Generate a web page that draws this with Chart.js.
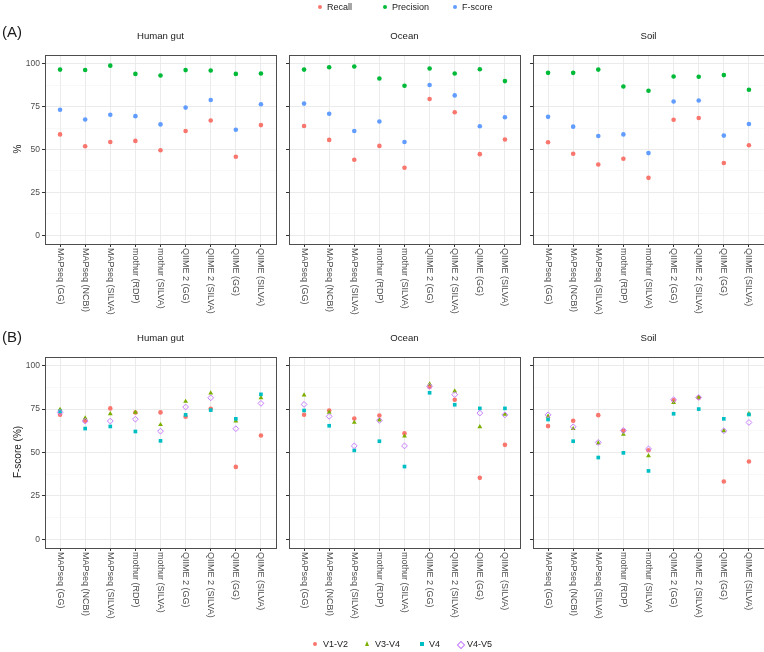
<!DOCTYPE html>
<html>
<head>
<meta charset="utf-8">
<script src="https://cdn.jsdelivr.net/npm/chart.js@4.4.1/dist/chart.umd.min.js"></script>
<style>
  body { margin: 0; background: #fff; font-family: "Liberation Sans", Arial, sans-serif; color: #1a1a1a; }
  #wrap { position: relative; width: 764px; height: 652px; overflow: hidden; }
  canvas { position: absolute; left: 0; top: 0; }
  .strip { position: absolute; width: 231px; text-align: center; font-size: 9.6px; line-height: 12px; }
  .tag { position: absolute; left: 2px; font-size: 15px; line-height: 18px; }
  .ytitle { position: absolute; left: 17px; font-size: 10px; transform: translate(-50%, -50%) rotate(-90deg); white-space: nowrap; }
  .lg { position: absolute; font-size: 9px; line-height: 12px; white-space: nowrap; }
  .mk { position: absolute; }
</style>
</head>
<body>
<div id="wrap">
  <canvas id="a0" width="764" height="652"></canvas>
  <canvas id="a1" width="764" height="652"></canvas>
  <canvas id="a2" width="764" height="652"></canvas>
  <canvas id="b0" width="764" height="652"></canvas>
  <canvas id="b1" width="764" height="652"></canvas>
  <canvas id="b2" width="764" height="652"></canvas>
  <div id="labels"></div>
</div>
<script>
// categories
const methods = ['MAPseq (GG)', 'MAPseq (NCBI)', 'MAPseq (SILVA)', 'mothur (RDP)', 'mothur (SILVA)',
                 'QIIME 2 (GG)', 'QIIME 2 (SILVA)', 'QIIME (GG)', 'QIIME (SILVA)'];
const habitats = ['Human gut', 'Ocean', 'Soil'];
const majorTicks = [0, 25, 50, 75, 100];
const minorTicks = [12.5, 37.5, 62.5, 87.5];

// (A) recall / precision / F-score
const recallGut = [58.8, 51.9, 54.4, 55.0, 49.6, 60.8, 66.9, 45.8, 64.2];
const precisionGut = [96.5, 96.3, 98.8, 94.0, 93.1, 96.2, 96.0, 94.0, 94.2];
const fscoreGut = [73.1, 67.5, 70.2, 69.4, 64.6, 74.4, 78.8, 61.5, 76.3];

const recallOcean = [63.7, 55.6, 44.0, 52.1, 39.4, 79.4, 71.7, 47.3, 55.8];
const precisionOcean = [96.5, 97.9, 98.3, 91.3, 87.1, 97.1, 94.2, 96.7, 89.8];
const fscoreOcean = [76.7, 70.8, 60.8, 66.3, 54.4, 87.5, 81.5, 63.5, 68.8];

const recallSoil = [54.2, 47.5, 41.3, 44.6, 33.5, 67.3, 68.3, 42.1, 52.5];
const precisionSoil = [94.6, 94.6, 96.5, 86.7, 84.2, 92.5, 92.3, 93.3, 84.8];
const fscoreSoil = [69.0, 63.3, 57.9, 58.8, 47.9, 77.9, 78.5, 58.1, 64.8];

// (B) F-score by primer region
const v12Gut = [71.7, 68.3, 75.4, 73.0, 73.1, 70.6, 75.2, 41.7, 59.8];
const v34Gut = [74.8, 69.8, 72.3, 73.1, 66.0, 79.4, 84.2, 68.1, 81.5];
const v4Gut = [73.7, 63.8, 65.0, 62.1, 56.7, 71.7, 74.4, 69.4, 83.5];
const v45Gut = [73.1, 68.1, 68.1, 69.2, 62.3, 76.2, 81.5, 63.7, 78.3];

const v12Ocean = [71.7, 74.2, 69.6, 71.3, 61.0, 87.7, 80.4, 35.4, 54.4];
const v34Ocean = [83.1, 73.1, 67.3, 68.7, 59.4, 89.4, 85.4, 64.8, 71.9];
const v4Ocean = [74.2, 65.4, 51.2, 56.5, 41.9, 84.4, 77.5, 75.4, 75.4];
const v45Ocean = [77.7, 70.8, 53.8, 68.5, 53.8, 88.1, 83.3, 72.7, 71.7];

const v12Soil = [65.2, 68.3, 71.5, 62.5, 51.3, 80.0, 81.5, 33.3, 44.8];
const v34Soil = [70.8, 63.7, 55.4, 60.4, 48.1, 78.8, 81.7, 62.5, 72.3];
const v4Soil = [69.0, 56.5, 47.1, 49.8, 39.4, 72.3, 75.0, 69.4, 71.9];
const v45Soil = [71.7, 64.8, 55.8, 62.7, 52.1, 80.4, 81.7, 62.5, 67.3];

const colA = { recall: '#F8766D', precision: '#00BA38', fscore: '#619CFF' };
const colB = { v12: '#F8766D', v34: '#7CAE00', v4: '#00BFC4', v45: '#C77CFF' };

const pts = vals => vals.map((v, i) => ({ x: i, y: v }));

function dot(label, vals, color, order) {
    return { label, data: pts(vals), pointStyle: 'circle', pointRadius: 2.3,
             backgroundColor: color, borderColor: color, borderWidth: 0, order };
}

// frame + clockwise-rotated category labels
const framePlugin = {
    id: 'frame',
    afterDraw(chart) {
        const { ctx, chartArea: a, scales: { x } } = chart;
        ctx.save();
        ctx.strokeStyle = '#4d4d4d';
        ctx.lineWidth = 1;
        ctx.strokeRect(Math.round(a.left) + 0.5, Math.round(a.top) + 0.5,
                       Math.round(a.width), Math.round(a.height));
        ctx.fillStyle = '#4D4D4D';
        ctx.font = '9px "Liberation Sans", Arial, sans-serif';
        ctx.textAlign = 'left';
        ctx.textBaseline = 'middle';
        methods.forEach((m, i) => {
            ctx.save();
            ctx.translate(x.getPixelForValue(i), a.bottom + 4);
            ctx.rotate(Math.PI / 2);
            ctx.fillText(m, 0, 0);
            ctx.restore();
        });
        ctx.restore();
    }
};

function panel(id, col, row, datasets) {
    const left = 45 + col * 244;
    const right = left + 231;
    const top = row ? 357 : 55;
    const bottom = row ? 548 : 244;
    const first = col === 0;
    const yW = first ? 45 : 3;
    return new Chart(document.getElementById(id), {
        type: 'scatter',
        data: { datasets },
        options: {
            responsive: false,
            animation: false,
            events: [],
            layout: {
                autoPadding: false,
                padding: { left: left - yW, top: top, right: Math.max(0, 764 - right), bottom: 652 - bottom - 3 }
            },
            plugins: { legend: { display: false }, tooltip: { enabled: false } },
            scales: {
                x: {
                    type: 'linear', min: -0.6, max: 8.6,
                    afterBuildTicks: s => { s.ticks = methods.map((m, i) => ({ value: i })); },
                    afterFit: s => { s.height = 3; },
                    ticks: { display: false },
                    grid: { color: '#EBEBEB', lineWidth: 1, tickColor: '#333', tickLength: 3 },
                    border: { display: false }
                },
                y: {
                    min: -5, max: 105,
                    afterBuildTicks: s => {
                        s.ticks = majorTicks.concat(minorTicks).sort((p, q) => p - q).map(v => ({ value: v }));
                    },
                    afterFit: s => { s.width = yW; },
                    ticks: {
                        display: first, padding: 2, color: '#4D4D4D',
                        font: { family: '"Liberation Sans", Arial, sans-serif', size: 8.5 },
                        callback: v => (majorTicks.includes(v) ? String(v) : '')
                    },
                    grid: {
                        color: c => (majorTicks.includes(c.tick.value) ? '#EBEBEB' : '#F4F4F4'),
                        lineWidth: c => (majorTicks.includes(c.tick.value) ? 1 : 0.6),
                        tickColor: c => (majorTicks.includes(c.tick.value) ? '#333' : 'rgba(0,0,0,0)'),
                        tickLength: 3
                    },
                    border: { display: false }
                }
            }
        },
        plugins: [framePlugin]
    });
}

function setA(recall, precision, fscore) {
    return [
        dot('F-score', fscore, colA.fscore, 0),
        dot('Precision', precision, colA.precision, 1),
        dot('Recall', recall, colA.recall, 2)
    ];
}

function setB(v12, v34, v4, v45) {
    return [
        { label: 'V4-V5', data: pts(v45), pointStyle: 'rectRot', pointRadius: 2.9,
          backgroundColor: 'rgba(0,0,0,0)', borderColor: colB.v45, borderWidth: 1, order: 0 },
        { label: 'V4', data: pts(v4), pointStyle: 'rect', pointRadius: 2.6,
          backgroundColor: colB.v4, borderColor: colB.v4, borderWidth: 0, order: 1 },
        { label: 'V3-V4', data: pts(v34), pointStyle: 'triangle', pointRadius: 2.8,
          backgroundColor: colB.v34, borderColor: colB.v34, borderWidth: 0, order: 2 },
        dot('V1-V2', v12, colB.v12, 3)
    ];
}

panel('a0', 0, 0, setA(recallGut, precisionGut, fscoreGut));
panel('a1', 1, 0, setA(recallOcean, precisionOcean, fscoreOcean));
panel('a2', 2, 0, setA(recallSoil, precisionSoil, fscoreSoil));
panel('b0', 0, 1, setB(v12Gut, v34Gut, v4Gut, v45Gut));
panel('b1', 1, 1, setB(v12Ocean, v34Ocean, v4Ocean, v45Ocean));
panel('b2', 2, 1, setB(v12Soil, v34Soil, v4Soil, v45Soil));

// text: strips, tags, axis titles, legends
const box = document.getElementById('labels');
let html = '';
habitats.forEach((h, c) => {
    html += `<div class="strip" style="left:${45 + c * 244}px;top:30px">${h}</div>`;
    html += `<div class="strip" style="left:${45 + c * 244}px;top:332px">${h}</div>`;
});
html += '<div class="tag" style="top:23px">(A)</div><div class="tag" style="top:328px">(B)</div>';
html += '<div class="ytitle" style="top:149px">%</div><div class="ytitle" style="top:452px">F-score (%)</div>';

const circle = (cx, cy, c) => `<div class="mk" style="left:${cx - 2.2}px;top:${cy - 2.2}px;width:4.4px;height:4.4px;border-radius:50%;background:${c}"></div>`;
const legendText = (x, cy, t) => `<div class="lg" style="left:${x}px;top:${cy - 6}px">${t}</div>`;

html += circle(320, 7, colA.recall) + legendText(327, 7, 'Recall');
html += circle(385, 7, colA.precision) + legendText(392, 7, 'Precision');
html += circle(455, 7, colA.fscore) + legendText(462, 7, 'F-score');

html += circle(315, 644, colB.v12) + legendText(323, 644, 'V1-V2');
html += `<div class="mk" style="left:365px;top:641px;width:0;height:0;border-left:2.5px solid transparent;border-right:2.5px solid transparent;border-bottom:5px solid ${colB.v34}"></div>`;
html += legendText(375, 644, 'V3-V4');
html += `<div class="mk" style="left:420px;top:642px;width:4px;height:4px;background:${colB.v4}"></div>`;
html += legendText(429, 644, 'V4');
html += `<div class="mk" style="left:458px;top:641.5px;width:4px;height:4px;border:1px solid ${colB.v45};transform:rotate(45deg)"></div>`;
html += legendText(467, 644, 'V4-V5');
box.innerHTML = html;
</script>
</body>
</html>
